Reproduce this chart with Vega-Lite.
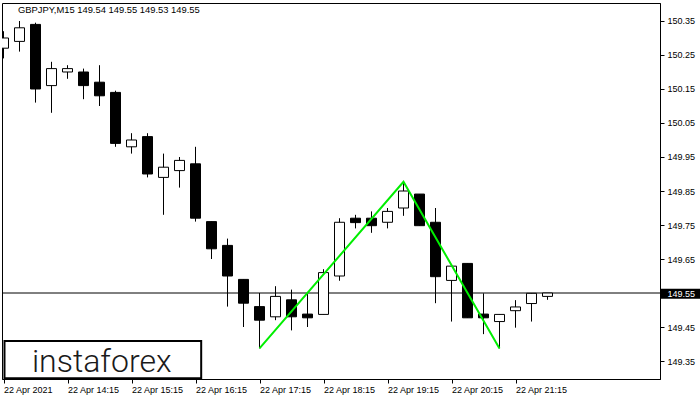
{
  "$schema": "https://vega.github.io/schema/vega-lite/v6.json",
  "width": 658,
  "height": 376,
  "autosize": {"type": "none"},
  "padding": {"left": 2, "top": 3, "right": 40, "bottom": 21},
  "background": "white",
  "config": {"view": {"stroke": "black", "strokeWidth": 1}, "font": "Liberation Sans"},
  "title": {"text": "GBPJPY,M15  149.54 149.55 149.53 149.55", "anchor": "start", "frame": "group", "fontSize": 9.4, "fontWeight": "normal", "color": "black", "font": "Liberation Sans", "baseline": "top", "offset": 0, "dx": 16, "dy": 12},
  "datasets": {
    "candles": [
      {"t": "2021-04-22T13:15:00Z", "o": 150.27, "h": 150.32, "l": 150.24, "c": 150.30},
      {"t": "2021-04-22T13:30:00Z", "o": 150.29, "h": 150.35, "l": 150.26, "c": 150.33},
      {"t": "2021-04-22T13:45:00Z", "o": 150.34, "h": 150.345, "l": 150.11, "c": 150.15},
      {"t": "2021-04-22T14:00:00Z", "o": 150.16, "h": 150.23, "l": 150.08, "c": 150.21},
      {"t": "2021-04-22T14:15:00Z", "o": 150.20, "h": 150.22, "l": 150.18, "c": 150.21},
      {"t": "2021-04-22T14:30:00Z", "o": 150.20, "h": 150.21, "l": 150.12, "c": 150.16},
      {"t": "2021-04-22T14:45:00Z", "o": 150.17, "h": 150.22, "l": 150.10, "c": 150.13},
      {"t": "2021-04-22T15:00:00Z", "o": 150.14, "h": 150.145, "l": 149.98, "c": 149.99},
      {"t": "2021-04-22T15:15:00Z", "o": 149.98, "h": 150.02, "l": 149.96, "c": 150.00},
      {"t": "2021-04-22T15:30:00Z", "o": 150.01, "h": 150.02, "l": 149.89, "c": 149.90},
      {"t": "2021-04-22T15:45:00Z", "o": 149.89, "h": 149.96, "l": 149.78, "c": 149.92},
      {"t": "2021-04-22T16:00:00Z", "o": 149.91, "h": 149.95, "l": 149.86, "c": 149.94},
      {"t": "2021-04-22T16:15:00Z", "o": 149.93, "h": 149.98, "l": 149.76, "c": 149.77},
      {"t": "2021-04-22T16:30:00Z", "o": 149.76, "h": 149.76, "l": 149.65, "c": 149.68},
      {"t": "2021-04-22T16:45:00Z", "o": 149.69, "h": 149.71, "l": 149.51, "c": 149.60},
      {"t": "2021-04-22T17:00:00Z", "o": 149.59, "h": 149.59, "l": 149.45, "c": 149.52},
      {"t": "2021-04-22T17:15:00Z", "o": 149.51, "h": 149.55, "l": 149.387, "c": 149.47},
      {"t": "2021-04-22T17:30:00Z", "o": 149.48, "h": 149.57, "l": 149.47, "c": 149.54},
      {"t": "2021-04-22T17:45:00Z", "o": 149.53, "h": 149.56, "l": 149.44, "c": 149.48},
      {"t": "2021-04-22T18:00:00Z", "o": 149.488, "h": 149.55, "l": 149.45, "c": 149.477},
      {"t": "2021-04-22T18:15:00Z", "o": 149.487, "h": 149.62, "l": 149.487, "c": 149.61},
      {"t": "2021-04-22T18:30:00Z", "o": 149.60, "h": 149.77, "l": 149.586, "c": 149.758},
      {"t": "2021-04-22T18:45:00Z", "o": 149.77, "h": 149.78, "l": 149.74, "c": 149.757},
      {"t": "2021-04-22T19:00:00Z", "o": 149.77, "h": 149.79, "l": 149.727, "c": 149.748},
      {"t": "2021-04-22T19:15:00Z", "o": 149.758, "h": 149.80, "l": 149.74, "c": 149.79},
      {"t": "2021-04-22T19:30:00Z", "o": 149.80, "h": 149.877, "l": 149.777, "c": 149.85},
      {"t": "2021-04-22T19:45:00Z", "o": 149.841, "h": 149.841, "l": 149.748, "c": 149.748},
      {"t": "2021-04-22T20:00:00Z", "o": 149.758, "h": 149.80, "l": 149.52, "c": 149.598},
      {"t": "2021-04-22T20:15:00Z", "o": 149.587, "h": 149.629, "l": 149.466, "c": 149.629},
      {"t": "2021-04-22T20:30:00Z", "o": 149.637, "h": 149.637, "l": 149.477, "c": 149.477},
      {"t": "2021-04-22T20:45:00Z", "o": 149.488, "h": 149.549, "l": 149.429, "c": 149.477},
      {"t": "2021-04-22T21:00:00Z", "o": 149.466, "h": 149.487, "l": 149.387, "c": 149.487},
      {"t": "2021-04-22T21:15:00Z", "o": 149.498, "h": 149.529, "l": 149.448, "c": 149.509},
      {"t": "2021-04-22T21:30:00Z", "o": 149.519, "h": 149.55, "l": 149.466, "c": 149.549},
      {"t": "2021-04-22T21:45:00Z", "o": 149.54, "h": 149.55, "l": 149.53, "c": 149.55}
    ],
    "pattern": [
      {"t": "2021-04-22T17:15:00Z", "p": 149.387},
      {"t": "2021-04-22T19:30:00Z", "p": 149.877},
      {"t": "2021-04-22T21:00:00Z", "p": 149.387}
    ]
  },
  "layer": [
    {
      "data": {"values": [{}]},
      "mark": {"type": "rule", "color": "black", "strokeWidth": 1},
      "encoding": {
        "y": {"datum": 149.55, "type": "quantitative"}
      }
    },
    {
      "data": {"name": "candles"},
      "mark": {"type": "rule", "color": "black", "strokeWidth": 1, "clip": true},
      "encoding": {
        "x": {"field": "t", "type": "temporal", "scale": {"type": "utc", "domain": [1619097215625, 1619134228125], "nice": false, "padding": 0}, "axis": {"values": [1619097300000, 1619100900000, 1619104500000, 1619108100000, 1619111700000, 1619115300000, 1619118900000, 1619122500000, 1619126100000], "tickCount": 20, "labelExpr": "time(datum.value) == 1619097300000 ? '22 Apr 2021' : utcFormat(datum.value, '%d %b %H:%M')", "labelAlign": "left", "labelFlush": false, "labelOverlap": false, "tickSize": 4, "labelPadding": 2, "labelFontSize": 9, "labelFont": "Liberation Sans", "labelColor": "black", "tickColor": "black", "domainColor": "black", "grid": false, "title": null}},
        "y": {"field": "l", "type": "quantitative", "scale": {"domain": [149.297059, 150.402941], "nice": false, "zero": false, "padding": 0}, "axis": {"orient": "right", "values": [149.35, 149.45, 149.55, 149.65, 149.75, 149.85, 149.95, 150.05, 150.15, 150.25, 150.35], "tickCount": 20, "format": ".2f", "tickSize": 4, "tickColor": "black", "domainColor": "black", "labelFontSize": 9, "labelFont": "Liberation Sans", "labelPadding": 3, "labelOverlap": false, "labelColor": {"expr": "abs(datum.value - 149.55) < 0.001 ? 'white' : 'black'"}, "grid": false, "title": null, "zindex": 1}},
        "y2": {"field": "h"}
      }
    },
    {
      "data": {"name": "candles"},
      "mark": {"type": "bar", "width": 10, "stroke": "black", "strokeWidth": 1, "clip": true},
      "encoding": {
        "x": {"field": "t", "type": "temporal"},
        "y": {"field": "o", "type": "quantitative"},
        "y2": {"field": "c"},
        "fill": {"condition": {"test": "datum.c >= datum.o", "value": "white"}, "value": "black"}
      }
    },
    {
      "data": {"name": "pattern"},
      "mark": {"type": "line", "color": "#00ee00", "strokeWidth": 2},
      "encoding": {
        "x": {"field": "t", "type": "temporal"},
        "y": {"field": "p", "type": "quantitative"}
      }
    },
    {
      "data": {"values": [{}]},
      "mark": {"type": "rect", "fill": "white", "stroke": "black", "strokeWidth": 2},
      "encoding": {
        "x": {"datum": 1619097356000, "type": "temporal"},
        "x2": {"datum": 1619108420000},
        "y": {"datum": 149.4088, "type": "quantitative"},
        "y2": {"datum": 149.2991}
      }
    },
    {
      "data": {"values": [{}]},
      "mark": {"type": "text", "text": "instaforex", "font": "Roboto", "fontWeight": 300, "fontSize": 32, "color": "#1a1a1a", "align": "left", "baseline": "alphabetic"},
      "encoding": {
        "x": {"datum": 1619098897000, "type": "temporal"},
        "y": {"datum": 149.3185, "type": "quantitative"}
      }
    },
    {
      "data": {"values": [{}]},
      "mark": {"type": "rect", "fill": "black", "clip": false},
      "encoding": {
        "x": {"datum": 1619134281000, "type": "temporal"},
        "x2": {"datum": 1619136486000},
        "y": {"datum": 149.5626, "type": "quantitative"},
        "y2": {"datum": 149.5332}
      }
    }
  ]
}
